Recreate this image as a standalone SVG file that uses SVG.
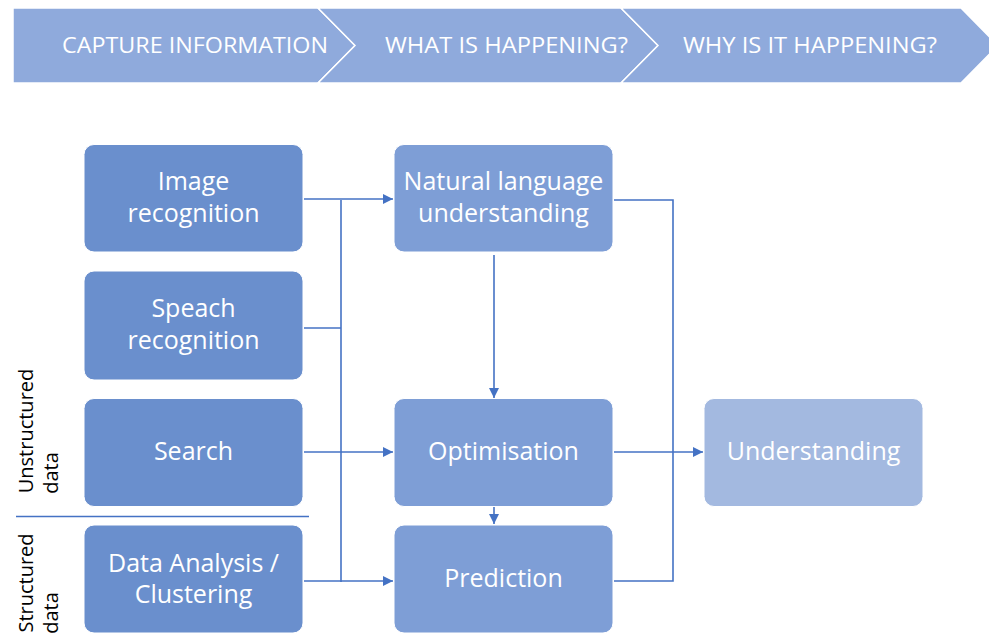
<svg xmlns="http://www.w3.org/2000/svg" width="989" height="635" viewBox="0 0 989 635">
<style>
.chev{fill:#8FAADC;stroke:#ffffff;stroke-width:1.5}
.bt{font-family:"Open Sans","Liberation Sans",sans-serif;font-size:22px;fill:#ffffff}
.n1{fill:#6A8FCD;stroke:#ffffff;stroke-width:1}
.n2{fill:#7E9ED6;stroke:#ffffff;stroke-width:1}
.n3{fill:#A3B9E0;stroke:#ffffff;stroke-width:1}
.nt{font-family:"Open Sans","Liberation Sans",sans-serif;font-size:25px;fill:#ffffff;text-anchor:middle}
.lbl{font-family:"Open Sans","Liberation Sans",sans-serif;font-size:20px;fill:#000000;text-anchor:middle}
.ln{fill:none;stroke:#4472C4;stroke-width:1.6}
</style>
<defs>
<marker id="ah" viewBox="0 0 10 10" refX="10" refY="5" markerWidth="11" markerHeight="10" markerUnits="userSpaceOnUse" orient="auto">
<path d="M0,0 L10,5 L0,10 Z" fill="#4472C4"/>
</marker>
</defs>
<rect width="989" height="635" fill="#ffffff"/>
<g id="banner">
<polygon class="chev" points="13,8 318,8 355,45.5 318,83 13,83"/>
<polygon class="chev" points="318,8 621,8 658,45.5 621,83 318,83 355,45.5"/>
<polygon class="chev" points="621,8 961,8 998,45.5 961,83 621,83 658,45.5"/>
<text class="bt" x="62" y="53" textLength="266" lengthAdjust="spacingAndGlyphs">CAPTURE INFORMATION</text>
<text class="bt" x="385" y="53" textLength="243" lengthAdjust="spacingAndGlyphs">WHAT IS HAPPENING?</text>
<text class="bt" x="683" y="53" textLength="254" lengthAdjust="spacingAndGlyphs">WHY IS IT HAPPENING?</text>
</g>
<g id="side-labels">
<text class="lbl" transform="translate(33,431) rotate(-90)">Unstructured</text>
<text class="lbl" transform="translate(58,473) rotate(-90)">data</text>
<line x1="16" y1="516.5" x2="309" y2="516.5" stroke="#4472C4" stroke-width="1.6"/>
<text class="lbl" transform="translate(33,583) rotate(-90)">Structured</text>
<text class="lbl" transform="translate(58,613) rotate(-90)">data</text>
</g>
<g id="connectors">
<line class="ln" x1="304" y1="199" x2="393" y2="199" marker-end="url(#ah)"/>
<line class="ln" x1="341" y1="200" x2="341" y2="582"/>
<line class="ln" x1="304" y1="328" x2="341" y2="328"/>
<line class="ln" x1="304" y1="452" x2="393" y2="452" marker-end="url(#ah)"/>
<line class="ln" x1="304" y1="581" x2="393" y2="581" marker-end="url(#ah)"/>
<line class="ln" x1="494" y1="255" x2="494" y2="398" marker-end="url(#ah)"/>
<polyline class="ln" points="614,200 673,200 673,581 614,581"/>
<line class="ln" x1="614" y1="452" x2="703" y2="452" marker-end="url(#ah)"/>
<line class="ln" x1="494" y1="507" x2="494" y2="524" marker-end="url(#ah)"/>
</g>
<g id="image-recognition">
<rect class="n1" x="84" y="144.5" width="219" height="107.5" rx="10"/>
<text class="nt" x="193.5" y="190">Image</text>
<text class="nt" x="193.5" y="222">recognition</text>
</g>
<g id="speach-recognition">
<rect class="n1" x="84" y="271" width="219" height="109" rx="10"/>
<text class="nt" x="193.5" y="317">Speach</text>
<text class="nt" x="193.5" y="349">recognition</text>
</g>
<g id="search">
<rect class="n1" x="84" y="398.5" width="219" height="108" rx="10"/>
<text class="nt" x="193.5" y="460">Search</text>
</g>
<g id="data-analysis">
<rect class="n1" x="84" y="525" width="219" height="108" rx="10"/>
<text class="nt" x="193.5" y="572">Data Analysis /</text>
<text class="nt" x="193.5" y="603">Clustering</text>
</g>
<g id="nlu">
<rect class="n2" x="394" y="144.5" width="219" height="107.5" rx="10"/>
<text class="nt" x="503.5" y="190">Natural language</text>
<text class="nt" x="503.5" y="222">understanding</text>
</g>
<g id="optimisation">
<rect class="n2" x="394" y="398.5" width="219" height="108" rx="10"/>
<text class="nt" x="503.5" y="460">Optimisation</text>
</g>
<g id="prediction">
<rect class="n2" x="394" y="525" width="219" height="108" rx="10"/>
<text class="nt" x="503.5" y="587">Prediction</text>
</g>
<g id="understanding">
<rect class="n3" x="704" y="398.5" width="219" height="108" rx="10"/>
<text class="nt" x="813.5" y="460">Understanding</text>
</g>
</svg>
